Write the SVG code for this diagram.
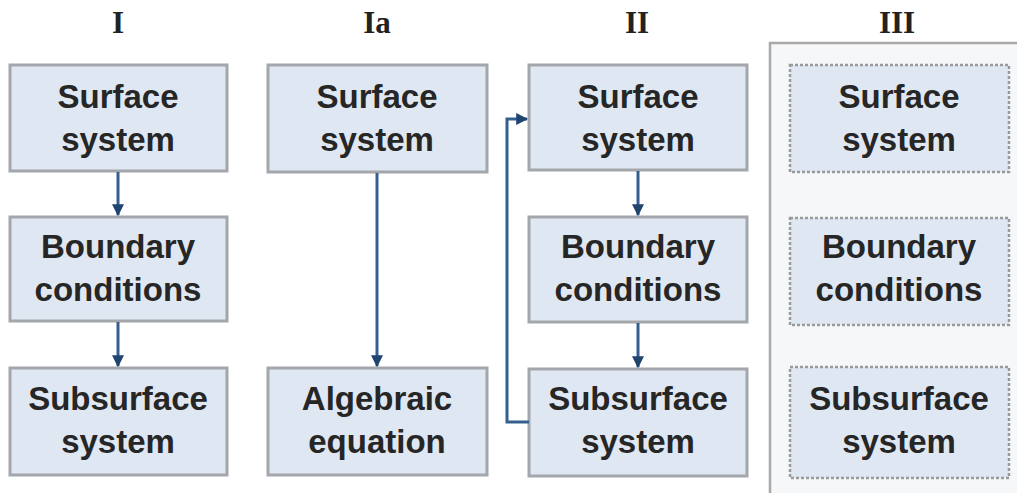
<svg xmlns="http://www.w3.org/2000/svg" width="1017" height="493" viewBox="0 0 1017 493">
<style>
.box{fill:#dfe7f3;stroke:#a3a6ab;stroke-width:3}
.dbox{fill:#dfe7f3;stroke:#9a9a9a;stroke-width:2.5;stroke-dasharray:3 2}
.t{font-family:"Liberation Sans",Arial,sans-serif;font-size:33px;font-weight:bold;fill:#262626;text-anchor:middle}
.h{font-family:"Liberation Serif","Times New Roman",serif;font-size:31px;font-weight:bold;fill:#222;text-anchor:middle}
.c{fill:none;stroke:#34608f;stroke-width:3}
</style>
<defs>
<marker id="ah" viewBox="0 0 10 10" refX="9" refY="5" markerWidth="4" markerHeight="4" orient="auto" markerUnits="strokeWidth">
<path d="M0,0 L10,5 L0,10 z" fill="#1f4470"/>
</marker>
</defs>
<rect x="0" y="0" width="1017" height="493" fill="#ffffff"/>
<g id="titles">
<text class="h" x="118" y="33">I</text>
<text class="h" x="377" y="33">Ia</text>
<text class="h" x="637" y="33">II</text>
<text class="h" x="897" y="33">III</text>
</g>
<g id="panel3">
<rect x="770" y="43" width="247" height="450" fill="#f6f7f9"/>
<path d="M1017,43 L770,43 L770,493" fill="none" stroke="#a9a9a9" stroke-width="2.5"/>
</g>
<g id="c1-surface"><rect class="box" x="10" y="65" width="217" height="106"/><text class="t" x="118" y="108">Surface</text><text class="t" x="118" y="151">system</text></g>
<g id="c1-boundary"><rect class="box" x="10" y="217" width="217" height="104"/><text class="t" x="118" y="258">Boundary</text><text class="t" x="118" y="301">conditions</text></g>
<g id="c1-subsurface"><rect class="box" x="10" y="368" width="217" height="107"/><text class="t" x="118" y="410">Subsurface</text><text class="t" x="118" y="453">system</text></g>
<g id="c2-surface"><rect class="box" x="268" y="65" width="219" height="107"/><text class="t" x="377" y="108">Surface</text><text class="t" x="377" y="151">system</text></g>
<g id="c2-algebraic"><rect class="box" x="268" y="368" width="219" height="107"/><text class="t" x="377" y="410">Algebraic</text><text class="t" x="377" y="453">equation</text></g>
<g id="c3-surface"><rect class="box" x="529" y="65" width="218" height="105"/><text class="t" x="638" y="108">Surface</text><text class="t" x="638" y="151">system</text></g>
<g id="c3-boundary"><rect class="box" x="529" y="217" width="218" height="105"/><text class="t" x="638" y="258">Boundary</text><text class="t" x="638" y="301">conditions</text></g>
<g id="c3-subsurface"><rect class="box" x="529" y="369" width="218" height="107"/><text class="t" x="638" y="410">Subsurface</text><text class="t" x="638" y="453">system</text></g>
<g id="c4-surface"><rect class="dbox" x="790" y="65" width="219" height="107"/><text class="t" x="899" y="108">Surface</text><text class="t" x="899" y="151">system</text></g>
<g id="c4-boundary"><rect class="dbox" x="790" y="218" width="219" height="107"/><text class="t" x="899" y="258">Boundary</text><text class="t" x="899" y="301">conditions</text></g>
<g id="c4-subsurface"><rect class="dbox" x="790" y="367" width="219" height="111"/><text class="t" x="899" y="410">Subsurface</text><text class="t" x="899" y="453">system</text></g>
<g id="connectors">
<line class="c" x1="118" y1="172" x2="118" y2="215" marker-end="url(#ah)"/>
<line class="c" x1="118" y1="322" x2="118" y2="366" marker-end="url(#ah)"/>
<line class="c" x1="377" y1="173" x2="377" y2="366" marker-end="url(#ah)"/>
<line class="c" x1="638" y1="171" x2="638" y2="215" marker-end="url(#ah)"/>
<line class="c" x1="638" y1="323" x2="638" y2="367" marker-end="url(#ah)"/>
<path class="c" d="M529,422 L507,422 L507,119 L527,119" marker-end="url(#ah)"/>
</g>
</svg>
